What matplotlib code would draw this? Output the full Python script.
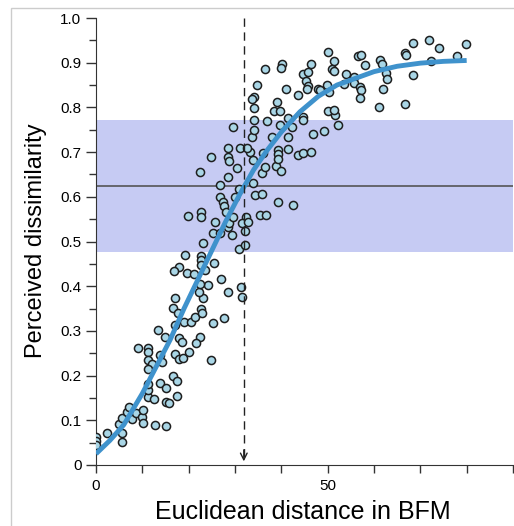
import matplotlib
matplotlib.use("Agg")
import matplotlib.pyplot as plt
from matplotlib.patches import Rectangle

plt.rcParams['font.family'] = ['Liberation Sans', 'DejaVu Sans']

# scatter: pairs of faces (distance in BFM, perceived dissimilarity)
dist = [0, 0, 0, 2.4, 5.6, 5.6, 5.0, 5.6, 6.7, 7.1, 7.8, 8.6, 9.9, 10.1, 10.1,
        12.7, 15.1, 11.2, 12.5, 11.2, 11.2, 13.8, 15.1, 15.1, 15.7, 17.5, 16.6,
        17.5, 9.1, 11.2, 11.2, 11.2, 12.1, 11.2, 13.8, 14.2, 13.4, 14.9, 17.0,
        17.9, 18.8, 20.1, 17.0, 17.9, 18.6, 19.0, 20.5, 22.4, 21.6, 24.8,
        25.2, 27.6, 21.4, 22.7, 22.9, 16.6, 17.7, 17.0, 23.1, 22.2, 28.5, 31.3,
        31.5, 27.0, 24.2, 22.4, 17.9, 16.8, 19.6, 21.1, 23.5, 25.5, 19.2, 22.7,
        22.7, 22.7, 23.1, 30.9, 32.1, 25.2, 26.8, 29.3, 28.5, 32.4, 31.5, 32.8,
        32.1, 19.8, 22.7, 22.7, 25.7, 28.7,
        26.8, 30.9, 33.9, 34.3, 35.8, 30.0, 26.8, 27.4, 27.6, 28.0, 29.6, 35.4,
        36.7, 39.3, 42.5, 24.8, 28.5, 28.5, 28.7, 31.1, 33.2, 33.9, 36.0, 39.3,
        39.3, 41.4, 43.6, 44.7, 46.4, 30.4, 35.8, 38.8, 39.9, 22.4, 28.5, 36.5,
        29.6, 34.1, 34.1, 33.7, 34.1, 36.9, 39.7, 41.4, 44.7, 42.3, 41.4, 38.0,
        46.8, 49.2, 50.1, 51.6, 52.2, 39.1, 38.4, 39.7, 32.6, 51.3, 44.7, 39.3,
        36.5, 40.1, 39.9, 46.4, 50.9, 44.7, 45.7, 45.3, 45.7, 45.5, 41.0, 43.6,
        47.9, 34.7, 34.1, 33.7,
        50.1, 51.3, 51.3, 56.5, 57.2, 58.0, 61.3, 61.7, 62.6, 62.8, 61.9, 53.9,
        53.5, 55.7, 55.7, 57.0, 57.2, 57.0, 49.8, 50.3, 48.3, 61.1,
        68.4, 71.8, 74.0, 79.8, 66.7, 66.9, 72.3, 77.9, 68.4, 66.7]
dissim = [0.063, 0.054, 0.045, 0.072, 0.051, 0.072, 0.092, 0.105, 0.119, 0.130,
          0.103, 0.116, 0.107, 0.123, 0.094, 0.089, 0.087, 0.152, 0.148, 0.168,
          0.181, 0.183, 0.172, 0.141, 0.139, 0.154, 0.199, 0.188, 0.262, 0.262,
          0.253, 0.235, 0.226, 0.215, 0.246, 0.230, 0.302, 0.286, 0.248, 0.237,
          0.239, 0.253, 0.313, 0.284, 0.275, 0.320, 0.320, 0.286, 0.273, 0.235,
          0.318, 0.329, 0.331, 0.349, 0.340, 0.351, 0.340, 0.374, 0.374, 0.387,
          0.387, 0.398, 0.376, 0.416, 0.403, 0.405, 0.443, 0.434, 0.430, 0.427,
          0.436, 0.452, 0.470, 0.468, 0.459, 0.447, 0.497, 0.483, 0.492, 0.519,
          0.519, 0.515, 0.532, 0.555, 0.541, 0.544, 0.523, 0.557, 0.566, 0.555,
          0.544, 0.541,
          0.626, 0.617, 0.631, 0.604, 0.606, 0.600, 0.600, 0.588, 0.579, 0.566,
          0.555, 0.559, 0.559, 0.588, 0.582, 0.689, 0.709, 0.689, 0.680, 0.709,
          0.700, 0.682, 0.698, 0.705, 0.696, 0.707, 0.694, 0.698, 0.700, 0.664,
          0.653, 0.669, 0.658, 0.655, 0.644, 0.667,
          0.756, 0.772, 0.799, 0.734, 0.749, 0.770, 0.761, 0.776, 0.779, 0.756,
          0.734, 0.734, 0.741, 0.747, 0.792, 0.783, 0.761, 0.812, 0.792, 0.792,
          0.709, 0.794, 0.772, 0.685,
          0.886, 0.897, 0.888, 0.897, 0.886, 0.875, 0.879, 0.859, 0.848, 0.841,
          0.841, 0.828, 0.841, 0.850, 0.823, 0.819,
          0.924, 0.904, 0.881, 0.915, 0.917, 0.895, 0.906, 0.897, 0.877, 0.864,
          0.841, 0.875, 0.852, 0.868, 0.855, 0.846, 0.839, 0.821, 0.850, 0.834,
          0.839, 0.801,
          0.944, 0.951, 0.933, 0.942, 0.922, 0.917, 0.904, 0.915, 0.873, 0.808]

# fitted psychometric curve
fit_x = [0, 3, 6, 10, 13, 16, 19, 22, 25, 28, 31, 34, 37, 40, 44, 48, 52, 56,
         60, 65, 70, 75, 80]
fit_y = [0.025, 0.055, 0.09, 0.16, 0.22, 0.28, 0.35, 0.415, 0.48, 0.545, 0.605,
         0.66, 0.705, 0.745, 0.79, 0.825, 0.85, 0.865, 0.88, 0.892, 0.899,
         0.903, 0.905]

mean_line = 0.625
band_lo, band_hi = 0.477, 0.772
threshold = 31.9

fig = plt.figure(figsize=(5.14, 5.26), dpi=100)
ax = fig.add_axes([96 / 514, 61 / 526, 417 / 514, 447 / 526])

ax.axhspan(band_lo, band_hi, color='#c6cbf3', lw=0, zorder=0)
ax.axhline(mean_line, color='#555555', lw=1.2, zorder=1)

ax.scatter(dist, dissim, s=34, facecolor='#a9d6e6', edgecolor='#1e1e1e',
           linewidth=1.1, zorder=3)
ax.plot(fit_x, fit_y, color='#3f92cc', lw=3.5, solid_capstyle='butt', zorder=4)

ax.plot([threshold, threshold], [1.0, 0.015], color='#222222', lw=1.0,
        dashes=(6, 4), zorder=5)
ax.annotate('', xy=(threshold, 0.002), xytext=(threshold, 0.04),
            arrowprops=dict(arrowstyle='->', color='#222222', lw=1.0,
                            mutation_scale=12), zorder=5)

ax.set_xlim(0, 90)
ax.set_ylim(0, 1)
ax.set_xticks(range(0, 91, 10))
ax.set_xticklabels(['0', '', '', '', '', '50', '', '', '', ''])
ax.set_yticks([i / 10 for i in range(11)])
ax.set_yticklabels(['0'] + ['%.1f' % (i / 10) for i in range(1, 11)])
ax.set_yticks([i / 20 for i in range(1, 20, 2)], minor=True)
ax.tick_params(axis='both', direction='out', length=7, width=1, colors='#333333',
               labelcolor='black', labelsize=11)
ax.tick_params(axis='x', length=6, pad=4)
ax.tick_params(axis='y', which='minor', length=5, width=1, colors='#333333')
ax.spines['top'].set_visible(False)
ax.spines['right'].set_visible(False)
for s in ['left', 'bottom']:
    ax.spines[s].set_color('#333333')

fig.text(36 / 514, 1 - 241 / 526, 'Perceived dissimilarity', rotation=90,
         ha='center', va='center', fontsize=17)
fig.text(303 / 514, 1 - 512 / 526, 'Euclidean distance in BFM',
         ha='center', va='center', fontsize=18)

fig.patches.append(Rectangle((11 / 514, -0.1), 1.2, 1 - 8 / 526 + 0.1,
                             transform=fig.transFigure, fill=False,
                             edgecolor='#cccccc', lw=1))

fig.savefig('out.png', dpi=100)
